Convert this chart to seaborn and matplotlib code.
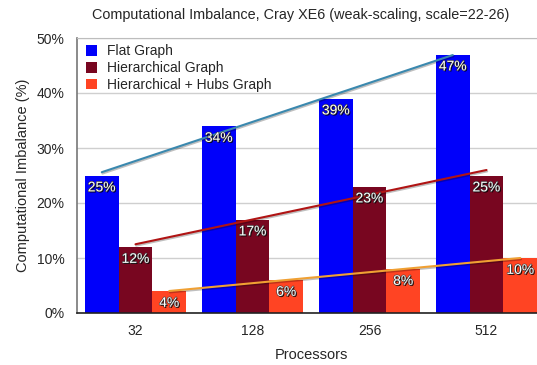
import numpy as np
import pandas as pd
import matplotlib
matplotlib.use("Agg")
import matplotlib.pyplot as plt
import matplotlib.patheffects as pe
import seaborn as sns

processors = ["32", "128", "256", "512"]
series = ["Flat Graph", "Hierarchical Graph", "Hierarchical + Hubs Graph"]
flat = [25, 34, 39, 47]
hierarchical = [12, 17, 23, 25]
hubs = [4, 6, 8, 10]
yticks = [0, 10, 20, 30, 40, 50]

colors = ["#0000FA", "#780620", "#FF4423"]
trend_colors = ["#3A88AE", "#B01414", "#F0A033"]

df = pd.DataFrame({
    "Processors": processors * 3,
    "Series": [s for s in series for _ in processors],
    "Value": flat + hierarchical + hubs,
})

sns.set_style("white")
plt.rcParams["font.family"] = ["Liberation Sans", "DejaVu Sans"]

fig = plt.figure(figsize=(5.37, 3.65), dpi=100)
ax = fig.add_axes([77 / 537, 52 / 365, 468 / 537, 275 / 365])

sns.barplot(data=df, x="Processors", y="Value", hue="Series",
            palette=colors, width=0.865, gap=0, saturation=1,
            linewidth=0, edgecolor="none",
            ax=ax, zorder=2, legend=True)

ax.set_xlim(-0.5, 3.5)
ax.set_ylim(0, 50)
ax.set_yticks(yticks)
ax.set_yticklabels([f"{t}%" for t in yticks], fontsize=10)
ax.tick_params(axis="x", labelsize=10, length=0, pad=8)
ax.tick_params(axis="y", length=0, pad=9)
ax.yaxis.grid(True, color="#cfcfcf", linewidth=1, zorder=0)
ax.set_axisbelow(True)

ax.spines["right"].set_visible(False)
ax.spines["top"].set_color("#bdbdbd")
ax.spines["left"].set_color("#777777")
ax.spines["left"].set_linewidth(1.2)
ax.spines["bottom"].set_color("#222222")
ax.spines["bottom"].set_linewidth(1.2)

ax.set_xlabel("Processors", fontsize=10.5, labelpad=7)
ax.set_ylabel("Computational Imbalance (%)", fontsize=10.5, labelpad=5)
ax.set_title("Computational Imbalance, Cray XE6 (weak-scaling, scale=22-26)",
             fontsize=10.4, pad=14, x=0.478)

# White value labels with a dark drop shadow, just inside the top of each bar
label_fx = [pe.withSimplePatchShadow(offset=(0.8, -0.8), shadow_rgbFace="black", alpha=0.9),
            pe.withStroke(linewidth=0.8, foreground="#333333")]
for container, values in zip(ax.containers, [flat, hierarchical, hubs]):
    for bar, v in zip(container, values):
        xc = bar.get_x() + bar.get_width() / 2
        ax.annotate(f"{v}%", (xc, v), xytext=(0, -3.5), textcoords="offset points",
                    ha="center", va="top", color="white", fontsize=10,
                    path_effects=label_fx, zorder=5)

# Linear trend line per series, from the first to the last bar of that series
idx = np.arange(len(processors))
for container, values, tc in zip(ax.containers, [flat, hierarchical, hubs], trend_colors):
    slope, intercept = np.polyfit(idx, values, 1)
    centers = [b.get_x() + b.get_width() / 2 for b in container]
    x0, x1 = centers[0], centers[-1]
    y0, y1 = intercept, intercept + slope * idx[-1]
    ax.plot([x0, x1], [y0, y1], color=tc, linewidth=1.5, zorder=4,
            path_effects=[pe.SimpleLineShadow(offset=(0.5, -1), alpha=0.25), pe.Normal()])

leg = ax.legend(loc="upper left", frameon=False, fontsize=10,
                handlelength=0.8, handleheight=0.8, handletextpad=0.72,
                labelspacing=0.2, borderaxespad=0.2, borderpad=0.25,
                bbox_to_anchor=(0.005, 1.0))

fig.savefig("out.png", dpi=100)
